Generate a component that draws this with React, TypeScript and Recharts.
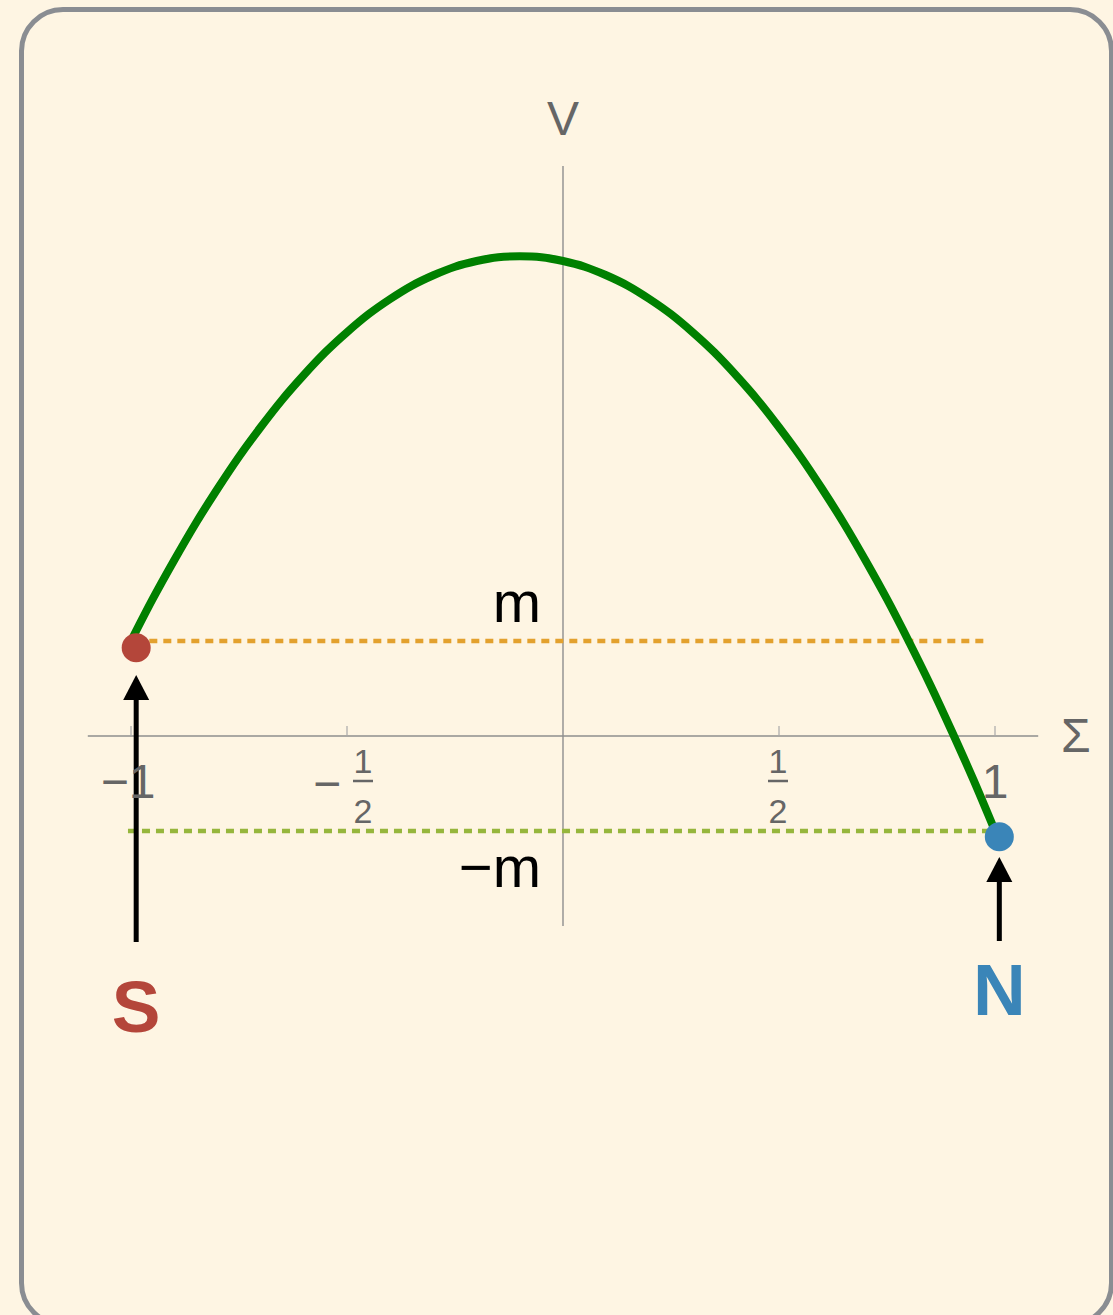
import React from "react";
import {
  ComposedChart,
  Line,
  Scatter,
  XAxis,
  YAxis,
  ReferenceLine,
  ReferenceDot,
} from "recharts";

// Potential curve V(Σ), sampled along Σ
const curveSigma = [
  -1.0, -0.95, -0.9, -0.85, -0.8, -0.75, -0.7, -0.65, -0.6, -0.55, -0.5,
  -0.45, -0.4, -0.35, -0.3, -0.25, -0.2, -0.15, -0.1, -0.05, 0.0, 0.05, 0.1,
  0.15, 0.2, 0.25, 0.3, 0.35, 0.4, 0.45, 0.5, 0.55, 0.6, 0.65, 0.7, 0.75, 0.8,
  0.85, 0.9, 0.95, 1.0,
];
const curveV = [
  1.0, 1.44, 1.85, 2.24, 2.6, 2.94, 3.25, 3.54, 3.8, 4.04, 4.25, 4.44, 4.6,
  4.74, 4.85, 4.94, 5.0, 5.04, 5.05, 5.04, 5.0, 4.94, 4.85, 4.74, 4.6, 4.44,
  4.25, 4.04, 3.8, 3.54, 3.25, 2.94, 2.6, 2.24, 1.85, 1.44, 1.0, 0.54, 0.05,
  -0.46, -1.0,
];

// Levels m and −m
const levelM = 1;
const levelMinusM = -1;
const levelMRange = [-0.99, 0.984];
const levelMinusMRange = [-1.007, 1.0];

// Axis extents
const sigmaAxisRange = [-1.1, 1.1];
const vAxisRange = [-2, 6];

// Σ-axis ticks
const tickValues = [-1, -0.5, 0.5, 1];
const tickSigns = ["−", "−", "", ""];
const tickNumerators = ["1", "1", "1", "1"];
const tickDenominators = ["", "2", "2", ""];

// End points S (south) and N (north)
const poleNames = ["S", "N"];
const poleSigma = [-0.988, 1.01];
const poleV = [0.93, -1.06];
const poleArrowTipV = [0.642, -1.274];
const poleArrowTailV = [-2.168, -2.158];
const poleLabelV = [-3.116, -2.937];
const poleColors = ["#B4463A", "#3A85B8"];

const FONT = '"Liberation Sans", Arial, Helvetica, sans-serif';
const GREY_TEXT = "#666666";
const AXIS_GREY = "#8E8E8E";
const BG = "#FEF5E3";

const curveData = curveSigma.map((s, i) => ({ sigma: s, v: curveV[i] }));
const poleData = poleSigma.map((s, i) => ({
  sigma: s,
  v: poleV[i],
  color: poleColors[i],
}));

const W = 1113;
const H = 1315;

function TickLabel(props: any) {
  const { cx, cy, index } = props;
  const sign = tickSigns[index];
  const num = tickNumerators[index];
  const den = tickDenominators[index];
  if (!den) {
    return (
      <text
        x={cx + (sign ? -3 : 0)}
        y={cy + 62}
        textAnchor="middle"
        fontFamily={FONT}
        fontSize={48}
        fill={GREY_TEXT}
      >
        {sign + num}
      </text>
    );
  }
  const fx = sign ? cx + 16 : cx - 1;
  return (
    <g>
      {sign && (
        <text
          x={cx - 20}
          y={cy + 64}
          textAnchor="middle"
          fontFamily={FONT}
          fontSize={48}
          fill={GREY_TEXT}
        >
          {sign}
        </text>
      )}
      <text
        x={fx}
        y={cy + 37}
        textAnchor="middle"
        fontFamily={FONT}
        fontSize={34}
        fill={GREY_TEXT}
      >
        {num}
      </text>
      <line
        x1={fx - 10}
        x2={fx + 10}
        y1={cy + 45}
        y2={cy + 45}
        stroke={GREY_TEXT}
        strokeWidth={2.5}
      />
      <text
        x={fx}
        y={cy + 87}
        textAnchor="middle"
        fontFamily={FONT}
        fontSize={34}
        fill={GREY_TEXT}
      >
        {den}
      </text>
    </g>
  );
}

export default function App() {
  return (
    <div
      style={{
        position: "absolute",
        left: 0,
        top: 0,
        width: W,
        height: H,
        background: BG,
        overflow: "hidden",
      }}
    >
      <div
        style={{
          position: "absolute",
          left: 19,
          top: 7,
          width: 1095,
          height: 1320,
          boxSizing: "border-box",
          border: "5px solid #8A8D92",
          borderRadius: 44,
        }}
      />
      <div style={{ position: "absolute", left: 0, top: 0 }}>
        <ComposedChart
          width={W}
          height={H}
          data={curveData}
          margin={{ left: 44.6, right: 31.6, top: 71, bottom: 199 }}
        >
          <XAxis
            dataKey="sigma"
            type="number"
            domain={[-1.2, 1.2]}
            allowDataOverflow
            hide
          />
          <YAxis
            dataKey="v"
            type="number"
            domain={[-4, 7]}
            allowDataOverflow
            hide
          />

          {/* axes through the origin */}
          <ReferenceLine
            segment={[
              { x: sigmaAxisRange[0], y: 0 },
              { x: sigmaAxisRange[1], y: 0 },
            ]}
            stroke={AXIS_GREY}
            strokeWidth={1.4}
          />
          <ReferenceLine
            segment={[
              { x: 0, y: vAxisRange[0] },
              { x: 0, y: vAxisRange[1] },
            ]}
            stroke={AXIS_GREY}
            strokeWidth={1.4}
          />
          {tickValues.map((t) => (
            <ReferenceLine
              key={`tick-${t}`}
              segment={[
                { x: t, y: 0 },
                { x: t, y: 0.105 },
              ]}
              stroke="#A8A8A8"
              strokeWidth={1.2}
            />
          ))}
          {tickValues.map((t, i) => (
            <ReferenceDot
              key={`ticklabel-${t}`}
              x={t}
              y={0}
              r={1}
              shape={(p: any) => <TickLabel {...p} index={i} />}
            />
          ))}

          {/* axis names */}
          <ReferenceDot
            x={0}
            y={6.505}
            r={1}
            shape={(p: any) => (
              <text
                x={p.cx}
                y={p.cy + 17}
                textAnchor="middle"
                fontFamily={FONT}
                fontSize={48}
                fill={GREY_TEXT}
              >
                V
              </text>
            )}
          />
          <ReferenceDot
            x={1.187}
            y={0}
            r={1}
            shape={(p: any) => (
              <text
                x={p.cx}
                y={p.cy + 16}
                textAnchor="middle"
                fontFamily={FONT}
                fontSize={48}
                fill={GREY_TEXT}
              >
                Σ
              </text>
            )}
          />

          {/* dotted levels m and −m */}
          <ReferenceLine
            segment={[
              { x: levelMRange[0], y: levelM },
              { x: levelMRange[1], y: levelM },
            ]}
            stroke="#E3A12E"
            strokeWidth={4.5}
            strokeDasharray="8 6"
          />
          <ReferenceLine
            segment={[
              { x: levelMinusMRange[0], y: levelMinusM },
              { x: levelMinusMRange[1], y: levelMinusM },
            ]}
            stroke="#96B63C"
            strokeWidth={4.5}
            strokeDasharray="8 6"
          />
          <ReferenceDot
            x={0}
            y={levelM}
            r={1}
            shape={(p: any) => (
              <text
                x={p.cx - 22}
                y={p.cy - 19}
                textAnchor="end"
                fontFamily={FONT}
                fontSize={58}
                fill="#000"
              >
                m
              </text>
            )}
          />
          <ReferenceDot
            x={0}
            y={levelMinusM}
            r={1}
            shape={(p: any) => (
              <text
                x={p.cx - 22}
                y={p.cy + 56}
                textAnchor="end"
                fontFamily={FONT}
                fontSize={58}
                fill="#000"
              >
                −m
              </text>
            )}
          />

          {/* arrows pointing at the end points */}
          {poleSigma.map((s, i) => (
            <ReferenceLine
              key={`shaft-${i}`}
              segment={[
                { x: s, y: poleArrowTailV[i] },
                { x: s, y: poleArrowTipV[i] - 0.2 },
              ]}
              stroke="#000"
              strokeWidth={5}
            />
          ))}
          {poleSigma.map((s, i) => (
            <ReferenceDot
              key={`head-${i}`}
              x={s}
              y={poleArrowTipV[i]}
              r={1}
              shape={(p: any) => (
                <polygon
                  points={`${p.cx},${p.cy} ${p.cx - 13},${p.cy + 25} ${p.cx + 13},${p.cy + 25}`}
                  fill="#000"
                />
              )}
            />
          ))}
          {poleSigma.map((s, i) => (
            <ReferenceDot
              key={`pole-label-${i}`}
              x={s}
              y={poleLabelV[i]}
              r={1}
              shape={(p: any) => (
                <text
                  x={p.cx}
                  y={p.cy}
                  textAnchor="middle"
                  fontFamily={FONT}
                  fontWeight="bold"
                  fontSize={73}
                  fill={poleColors[i]}
                >
                  {poleNames[i]}
                </text>
              )}
            />
          ))}

          <Line
            type="natural"
            dataKey="v"
            stroke="#008000"
            strokeWidth={8}
            dot={false}
            activeDot={false}
            isAnimationActive={false}
          />
          <Scatter
            data={poleData}
            dataKey="v"
            isAnimationActive={false}
            shape={(p: any) => (
              <circle cx={p.cx} cy={p.cy} r={14.5} fill={p.payload.color} />
            )}
          />
        </ComposedChart>
      </div>
    </div>
  );
}
